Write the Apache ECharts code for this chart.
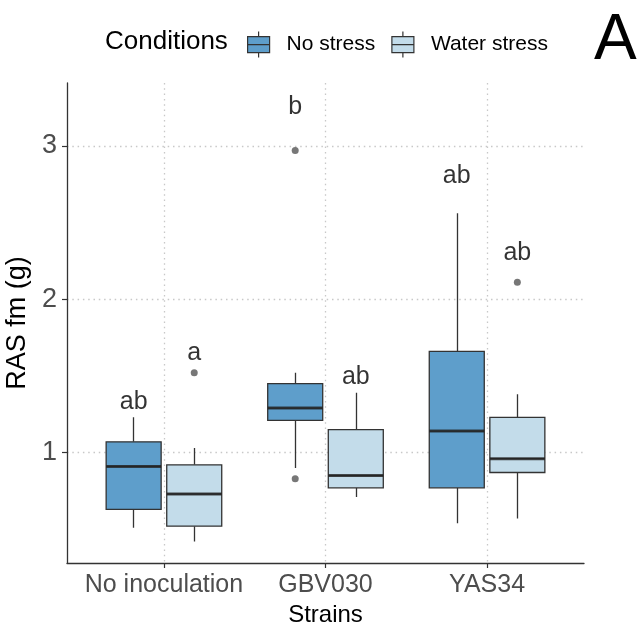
<!DOCTYPE html>
<html><head><meta charset="utf-8">
<script src="https://cdn.jsdelivr.net/npm/echarts@6/dist/echarts.min.js"></script>
<style>html,body{margin:0;padding:0;background:#fff}#c{width:637px;height:628px}</style>
</head><body><div id="c"></div>
<script>
const strains = ['No inoculation', 'GBV030', 'YAS34'];
const conditions = ['No stress', 'Water stress'];
// [min, Q1, median, Q3, max] per strain
const noStressBox = [
  [0.51, 0.63, 0.91, 1.07, 1.23],
  [0.90, 1.21, 1.29, 1.45, 1.52],
  [0.54, 0.77, 1.14, 1.66, 2.56]
];
const waterStressBox = [
  [0.42, 0.52, 0.73, 0.92, 1.03],
  [0.71, 0.77, 0.85, 1.15, 1.39],
  [0.57, 0.87, 0.96, 1.23, 1.38]
];
const noStressOutliers = [[], [2.97, 0.83], []];
const waterStressOutliers = [[1.52], [], [2.11]];
const noStressLetters = ['ab', 'b', 'ab'];
const waterStressLetters = ['a', 'ab', 'ab'];
const noStressLetterY = [1.33, 3.25, 2.80];
const waterStressLetterY = [1.65, 1.49, 2.30];
const yTicks = [1, 2, 3];
const xTicks = [1, 2, 3];

const FONT = 'Liberation Sans';
const darkFill = '#5e9ecb';
const lightFill = '#c3dcea';
const edge = '#333333';
const dodge = 0.1875;
const boxPx = 55;

const groups = [
  {name: conditions[0], box: noStressBox, out: noStressOutliers, let: noStressLetters, letY: noStressLetterY, fill: darkFill, side: -1},
  {name: conditions[1], box: waterStressBox, out: waterStressOutliers, let: waterStressLetters, letY: waterStressLetterY, fill: lightFill, side: 1}
];
const xPos = (i, side) => i + 1 + side * dodge;

const series = [];
groups.forEach((g, gi) => {
  // box (Q1..Q3 with median); whiskers drawn separately without end caps
  series.push({
    name: g.name, type: 'boxplot', xAxisIndex: gi, yAxisIndex: 0,
    boxWidth: [boxPx, boxPx],
    itemStyle: {color: g.fill, borderColor: edge, borderWidth: 1.3},
    emphasis: {disabled: true},
    data: g.box.map((b, i) => [xPos(i, g.side), b[1], b[1], b[2], b[3], b[3]]),
    z: 3
  });
  const wh = [];
  g.box.forEach((b, i) => {
    const x = xPos(i, g.side);
    wh.push({coords: [[x, b[3]], [x, b[4]]]});
    wh.push({coords: [[x, b[0]], [x, b[1]]]});
  });
  series.push({
    type: 'lines', coordinateSystem: 'cartesian2d', xAxisIndex: 0, yAxisIndex: 0,
    lineStyle: {color: edge, width: 1.3, opacity: 1}, silent: true,
    data: wh, z: 2
  });
  series.push({
    type: 'scatter', xAxisIndex: 0, yAxisIndex: 0, symbol: 'rect',
    symbolSize: [boxPx, 3], itemStyle: {color: '#222222'}, silent: true,
    data: g.box.map((b, i) => [xPos(i, g.side), b[2]]), z: 4
  });
  const outs = [];
  g.out.forEach((arr, i) => arr.forEach(v => outs.push([xPos(i, g.side), v])));
  series.push({
    type: 'scatter', xAxisIndex: 0, yAxisIndex: 0, symbol: 'circle', symbolSize: 7,
    itemStyle: {color: '#555555'}, silent: true, data: outs, z: 4
  });
  series.push({
    type: 'scatter', xAxisIndex: 0, yAxisIndex: 0, symbolSize: 0, silent: true,
    data: g.let.map((t, i) => ({value: [xPos(i, g.side), g.letY[i]], name: t})),
    label: {show: true, position: 'inside', formatter: p => p.name,
      fontFamily: FONT, fontSize: 25, color: '#000'},
    z: 5
  });
});

const axisFont = {fontFamily: FONT, color: '#4d4d4d'};
const chart = echarts.init(document.getElementById('c'), null, {renderer: 'canvas'});
chart.setOption({
  animation: false,
  backgroundColor: '#fff',
  title: [
    {text: 'Conditions', left: 100, top: 24, textStyle: {fontFamily: FONT, fontSize: 26, fontWeight: 'normal', color: '#000'}},
    {text: 'A', left: 589, top: 4, textStyle: {fontFamily: FONT, fontSize: 64, fontWeight: 'normal', color: '#000'}}
  ],
  legend: {
    data: groups.map(g => ({name: g.name, itemStyle: {color: g.fill, borderColor: edge, borderWidth: 1.2}})),
    left: 242, top: 26, itemWidth: 22, itemHeight: 26, itemGap: 16,
    icon: 'path://M11,0L11,5M0,5L22,5L22,13L0,13ZM0,13L22,13L22,21L0,21ZM11,21L11,26',
    textStyle: {fontFamily: FONT, fontSize: 21, color: '#000', padding: [0, 0, 0, 12]},
    selectedMode: false
  },
  grid: {left: 67, right: 53, top: 83, bottom: 65, containLabel: false, outerBoundsMode: 'none'},
  xAxis: [
    {type: 'value', min: 0.4, max: 3.6,
      name: 'Strains', nameLocation: 'middle', nameGap: 40,
      nameTextStyle: {fontFamily: FONT, fontSize: 24, color: '#000'},
      axisLine: {show: true, onZero: false, lineStyle: {color: '#333', width: 1.3}},
      axisTick: {show: true, length: 5, customValues: xTicks, lineStyle: {color: '#333', width: 1.2}},
      axisLabel: {customValues: xTicks, formatter: v => strains[Math.round(v) - 1] || '', fontSize: 25, margin: 10, ...axisFont},
      splitLine: {show: true, lineStyle: {color: '#c8c8c8', width: 1.3, type: [1.5, 3.8]}}
    },
    {type: 'value', min: 0.4, max: 3.6, show: false}
  ],
  yAxis: [{
    type: 'value', min: 0.28, max: 3.41,
    name: 'RAS fm (g)', nameLocation: 'middle', nameGap: 31, nameRotate: 90,
    nameTextStyle: {fontFamily: FONT, fontSize: 27, color: '#000'},
    axisLine: {show: true, onZero: false, lineStyle: {color: '#333', width: 1.3}},
    axisTick: {show: true, length: 5, customValues: yTicks, lineStyle: {color: '#333', width: 1.2}},
    axisLabel: {customValues: yTicks, fontSize: 27, margin: 10, ...axisFont},
    splitLine: {show: true, lineStyle: {color: '#c8c8c8', width: 1.3, type: [1.5, 3.8]}}
  }],
  series: series
});
</script></body></html>
